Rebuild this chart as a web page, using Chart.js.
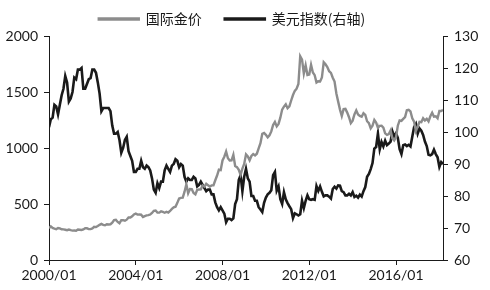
<!DOCTYPE html>
<html>
<head>
<meta charset="utf-8">
<script src="https://cdn.jsdelivr.net/npm/chart.js@4"></script>
<style>
  html, body { margin: 0; padding: 0; background: #fff; }
  #wrap { width: 490px; height: 290px; }
</style>
</head>
<body>
<div id="wrap"><canvas id="chart"></canvas></div>
<script>
// monthly values, 2000/01 .. 2018/03
const startYear = 2000;
const tickLabels = ['2000/01', '2004/01', '2008/01', '2012/01', '2016/01'];
const seriesNames = ['国际金价', '美元指数(右轴)'];

const goldPrice = [
    284, 300, 286, 280, 275, 286, 282, 274, 273, 270, 266, 272,
    266, 262, 263, 261, 272, 270, 268, 273, 284, 283, 276, 276,
    282, 296, 294, 303, 314, 322, 314, 310, 319, 317, 319, 333,
    357, 359, 340, 328, 355, 356, 351, 360, 379, 379, 390, 407,
    414, 405, 406, 404, 384, 392, 398, 400, 406, 420, 439, 442,
    424, 423, 434, 429, 422, 431, 424, 438, 456, 470, 476, 510,
    549, 555, 557, 610, 676, 596, 633, 632, 598, 586, 627, 629,
    631, 665, 655, 680, 668, 656, 666, 666, 712, 754, 806, 803,
    889, 922, 968, 909, 888, 890, 939, 839, 829, 806, 760, 816,
    858, 943, 924, 890, 929, 946, 934, 949, 996, 1043, 1127, 1134,
    1118, 1095, 1114, 1148, 1205, 1233, 1193, 1215, 1271, 1343, 1370, 1391,
    1356, 1372, 1424, 1473, 1510, 1529, 1572, 1820, 1790, 1665, 1739, 1652,
    1656, 1743, 1674, 1650, 1585, 1596, 1594, 1630, 1765, 1747, 1722, 1685,
    1671, 1628, 1593, 1487, 1414, 1343, 1286, 1347, 1349, 1316, 1275, 1222,
    1244, 1300, 1336, 1299, 1287, 1279, 1311, 1296, 1239, 1222, 1176, 1200,
    1251, 1227, 1179, 1198, 1199, 1182, 1131, 1117, 1125, 1157, 1086, 1068,
    1097, 1199, 1246, 1242, 1260, 1276, 1337, 1341, 1326, 1266, 1236, 1152,
    1192, 1234, 1231, 1266, 1246, 1260, 1237, 1283, 1315, 1280, 1283, 1265,
    1331, 1331, 1340
];

const usdIndex = [
    101.5, 104.0, 104.5, 108.5, 108.0, 105.5, 108.5, 111.5, 113.5, 117.5, 115.5, 109.5,
    110.5, 112.5, 117.0, 116.5, 119.5, 119.5, 120.0, 113.5, 113.5, 115.0, 116.5, 116.8,
    119.5, 119.5, 118.5, 115.5, 112.0, 106.5, 107.5, 107.5, 107.5, 107.5, 106.5, 102.0,
    99.5, 99.5, 100.0, 97.5, 93.5, 95.0, 97.5, 98.5, 94.0, 92.5, 91.0, 87.5,
    87.5, 88.5, 88.5, 91.0, 89.0, 88.5, 89.5, 89.0, 88.0, 85.5, 82.0, 81.0,
    84.0, 82.5, 84.5, 84.5, 88.0, 89.5, 88.5, 87.5, 89.5, 90.0, 91.5, 91.0,
    89.0, 90.0, 89.5, 86.0, 84.5, 85.5, 85.0, 85.0, 86.0, 85.5, 83.0, 83.5,
    84.5, 83.5, 82.5, 81.5, 82.0, 82.0, 80.5, 80.5, 78.0, 76.5, 75.5, 76.5,
    75.5, 74.5, 71.8, 72.9, 72.9, 72.5, 73.0, 77.5, 79.0, 85.0, 86.5, 81.5,
    86.0, 88.5, 85.5, 84.5, 80.0, 80.0, 78.5, 78.5, 76.5, 75.8, 75.0, 77.9,
    79.5, 80.5, 81.0, 81.8, 86.5, 87.5, 81.7, 83.0, 79.0, 77.5, 81.2, 79.0,
    77.8, 76.8, 75.9, 73.1, 74.6, 74.3, 73.9, 74.3, 78.5, 76.2, 78.5, 80.2,
    79.0, 78.8, 79.0, 78.8, 83.1, 81.6, 83.0, 81.3, 79.9, 80.2, 80.2, 79.8,
    79.2, 82.2, 82.9, 82.3, 83.3, 83.2, 81.5, 81.2, 80.2, 80.2, 80.7, 80.2,
    81.2, 79.7, 80.1, 79.5, 80.4, 79.8, 81.5, 82.8, 86.0, 86.9, 88.4, 90.3,
    94.8, 95.3, 99.5, 94.6, 96.9, 95.5, 97.3, 95.9, 96.4, 97.0, 100.2, 98.6,
    99.6, 98.2, 94.6, 93.1, 95.9, 96.1, 95.6, 96.0, 95.5, 98.5, 101.5, 102.5,
    99.5, 101.1, 100.4, 99.1, 97.0, 95.6, 92.9, 92.7, 93.1, 94.5, 93.1, 92.1,
    89.1, 90.6, 90.0
];

const toPoints = arr => arr.map((v, i) => ({ x: i, y: v }));
const monthLabel = i => {
    const y = startYear + Math.floor(i / 12);
    const m = (i % 12) + 1;
    return y + '/' + (m < 10 ? '0' + m : m);
};

const tickFont = { family: 'Lato, "Noto Sans CJK SC", sans-serif', size: 14 };
const axisColor = '#1a1a1a';

// wide gaps between legend items without a tall legend box,
// and the legend sits a bit left of the centre
const legendHeight = {
    id: 'legendHeight',
    beforeInit(chart) {
        const fit = chart.legend.fit;
        chart.legend.fit = function () {
            fit.call(this);
            this.height = 47;
        };
    },
    afterLayout(chart) {
        chart.legend.right -= 26;
    }
};

new Chart(document.getElementById('chart'), {
    type: 'line',
    data: {
        datasets: [
            {
                label: seriesNames[0],
                data: toPoints(goldPrice),
                borderColor: '#8c8c8c',
                backgroundColor: '#8c8c8c',
                borderWidth: 2.4,
                pointRadius: 0,
                tension: 0,
                yAxisID: 'y'
            },
            {
                label: seriesNames[1],
                data: toPoints(usdIndex),
                borderColor: '#1a1a1a',
                backgroundColor: '#1a1a1a',
                borderWidth: 2.6,
                pointRadius: 0,
                tension: 0,
                yAxisID: 'y1'
            }
        ]
    },
    plugins: [legendHeight],
    options: {
        responsive: true,
        maintainAspectRatio: false,
        animation: false,
        layout: { padding: { top: -11, left: 0, right: 0, bottom: 0 } },
        plugins: {
            tooltip: { enabled: false },
            legend: {
                display: true,
                position: 'top',
                labels: {
                    boxWidth: 40,
                    boxHeight: 1,
                    padding: 23,
                    color: '#1a1a1a',
                    font: { family: '"Noto Sans CJK SC", sans-serif', size: 14 }
                }
            }
        },
        scales: {
            x: {
                type: 'linear',
                min: 0,
                max: goldPrice.length - 1,
                afterBuildTicks: scale => {
                    scale.ticks = tickLabels.map((t, k) => ({ value: k * 48 }));
                },
                ticks: {
                    color: axisColor,
                    font: tickFont,
                    padding: 2,
                    maxRotation: 0,
                    callback: v => monthLabel(v)
                },
                grid: { drawOnChartArea: false, drawTicks: true, tickLength: 5, color: axisColor },
                border: { display: true, color: axisColor, width: 1 },
                afterFit: scale => { scale.height = 30; }
            },
            y: {
                position: 'left',
                min: 0,
                max: 2000,
                ticks: { stepSize: 500, color: axisColor, font: tickFont, padding: 6, callback: v => String(v) },
                grid: { drawOnChartArea: false, drawTicks: true, tickLength: 5, color: axisColor },
                border: { display: true, color: axisColor, width: 1 },
                afterFit: scale => { scale.width = 49; }
            },
            y1: {
                position: 'right',
                min: 60,
                max: 130,
                ticks: { stepSize: 10, color: axisColor, font: tickFont, padding: 6, callback: v => String(v) },
                grid: { drawOnChartArea: false, drawTicks: true, tickLength: 5, color: axisColor },
                border: { display: true, color: axisColor, width: 1 },
                afterFit: scale => { scale.width = 47; }
            }
        }
    }
});
</script>
</body>
</html>
